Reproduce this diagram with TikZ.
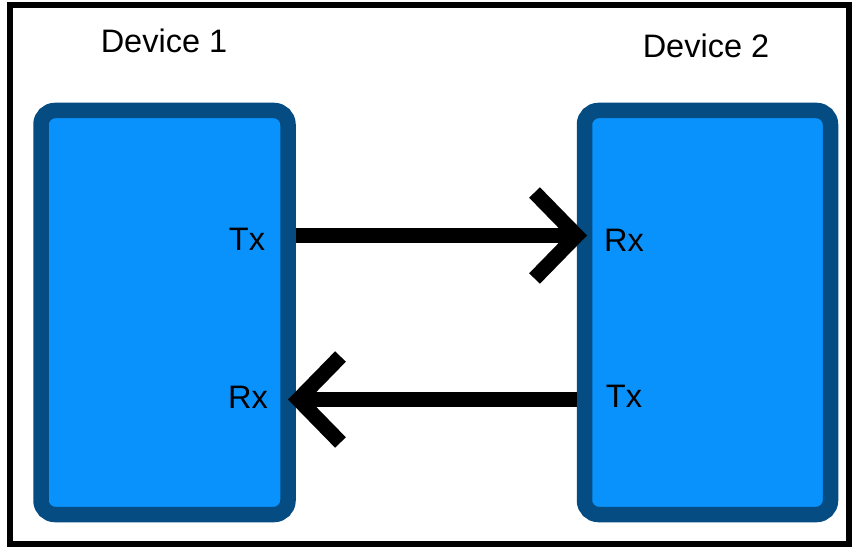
\documentclass[tikz,border=0pt]{standalone}
\usepackage{fontspec}
\setmainfont{Liberation Sans}
\usetikzlibrary{arrows.meta}
\definecolor{devfill}{RGB}{10,146,252}
\definecolor{devedge}{RGB}{5,76,130}
\tikzset{
  devbox/.style={draw=devedge, fill=devfill, line width=15.5pt,
    rounded corners=14pt, inner sep=0pt, outer sep=0pt},
  title/.style={anchor=base, inner sep=0pt, font=\fontsize{32.5}{38}\selectfont},
  port/.style={anchor=base, inner sep=0pt, font=\fontsize{32.5}{38}\selectfont},
  wire/.style={line width=15pt, line cap=butt,
    -{Straight Barb[length=42pt, width=86pt, line cap=butt, line join=miter]}},
}
\begin{document}
\begin{tikzpicture}[x=1pt, y=-1pt]
  \useasboundingbox (0,0) rectangle (852,548);
  \fill[white] (0,0) rectangle (852,548);
  % outer frame
  \draw[line width=6pt] (9.5,5.5) rectangle (848.5,544);

  % the two devices
  \node[devbox, minimum width=247pt, minimum height=404pt] (dev1) at (164.5,312.5) {};
  \node[devbox, minimum width=246pt, minimum height=404pt] (dev2) at (707.5,312.5) {};

  % titles
  \node[title] (name1) at (164,53) {Device 1};
  \node[title] (name2) at (706,58) {Device 2};

  % port labels
  \node[port] (tx1lbl) at (247,251) {Tx};
  \node[port] (rx1lbl) at (248,408) {Rx};
  \node[port] (rx2lbl) at (624,252) {Rx};
  \node[port] (tx2lbl) at (624,407) {Tx};

  % port positions on the box edges
  \coordinate (tx1) at (296,235.5);
  \coordinate (rx2) at (587,235.5);
  \coordinate (tx2) at (577,399.5);
  \coordinate (rx1) at (288,399.5);

  % serial links
  \draw[wire] (tx1) -- (rx2);
  \draw[wire] (tx2) -- (rx1);
\end{tikzpicture}
\end{document}
